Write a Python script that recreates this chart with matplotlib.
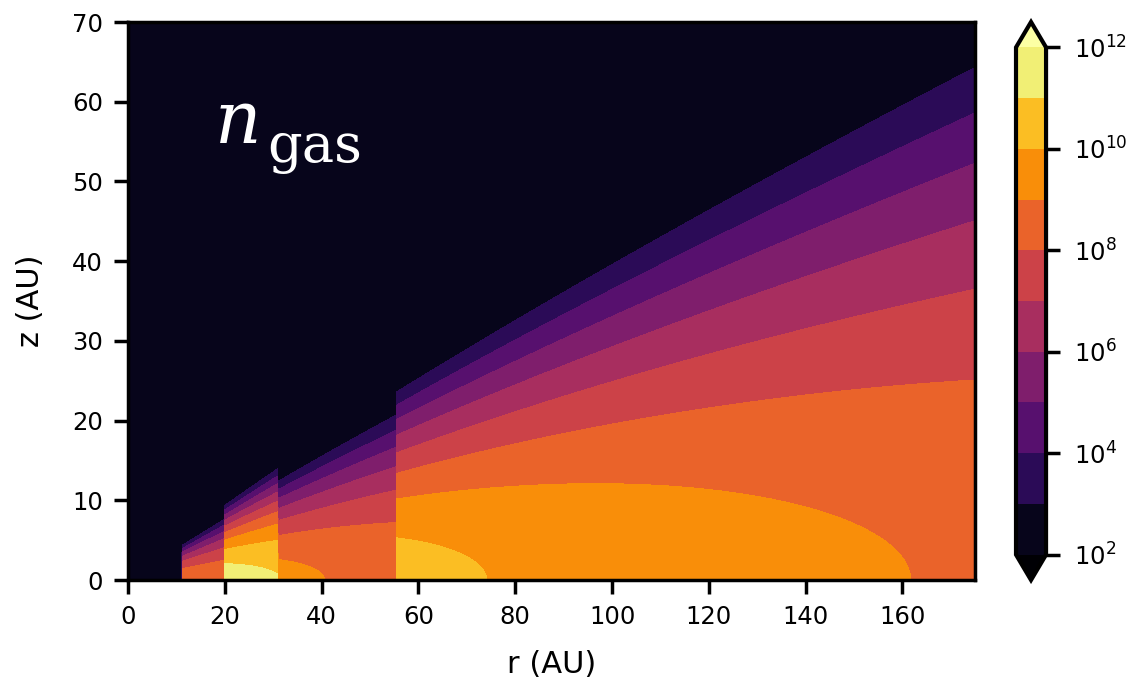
import numpy as np
import matplotlib
matplotlib.use('Agg')
import matplotlib.pyplot as plt

# gas disk rings: inner / outer radius (AU)
ring_r_in = [11.2, 20.0, 31.0, 55.5]
ring_r_out = [20.0, 31.0, 55.5, 175.0]
# log10 of the midplane density at each ring's inner edge, and its radial power-law slope
ring_logn_mid = [8.6, 11.4, 9.27, 10.37]
ring_slope = [0.0, -2.0, -2.3, -2.95]

# scale height H = h_ref * (r / r_ref)**flaring  (AU)
h_ref = 4.05
r_ref = 55.5
flaring = 0.97
logn_floor = 2.5

levels = np.arange(2, 13)
cbar_ticks = [2, 4, 6, 8, 10, 12]
xticks = np.arange(0, 161, 20)
yticks = np.arange(0, 71, 10)

# density grid in the (r, z) plane
r = np.linspace(0, 175, 1401)
z = np.linspace(0, 70, 701)
R, Z = np.meshgrid(r, z)
H = h_ref * (np.maximum(R, 0.1) / r_ref) ** flaring

logn = np.full(R.shape, logn_floor)
for i, (r_in, r_out, n0, p) in enumerate(zip(ring_r_in, ring_r_out, ring_logn_mid, ring_slope)):
    if i == len(ring_r_in) - 1:
        inside = (R >= r_in) & (R <= r_out)
    else:
        inside = (R >= r_in) & (R < r_out)
    mid = n0 + p * np.log10(np.maximum(R, 0.1) / r_in)
    vert = mid - Z ** 2 / (2 * H ** 2) / np.log(10)
    logn = np.where(inside, np.maximum(vert, logn_floor), logn)

fig = plt.figure(figsize=(11.38, 6.9), dpi=100)
ax = fig.add_axes([0.1125, 0.1594, 0.7443, 0.8087])
cs = ax.contourf(R, Z, logn, levels=levels, cmap='inferno', extend='both')

ax.set_xlim(0, 175)
ax.set_ylim(0, 70)
ax.set_xticks(xticks)
ax.set_yticks(yticks)
ax.set_xlabel('r (AU)', fontsize=22, va='center')
ax.set_ylabel('z (AU)', fontsize=22, va='center')
ax.xaxis.set_label_coords(0.5, -0.152)
ax.yaxis.set_label_coords(-0.115, 0.5)
ax.tick_params(labelsize=17.5, width=2.5, length=10, pad=8)
for s in ax.spines.values():
    s.set_linewidth(2.5)

# panel label: italic n with an upright "gas" subscript
fig.text(215 / 1138, 1 - 143 / 690, 'n', fontsize=52, style='italic',
         family='DejaVu Serif', color='white', va='baseline')
fig.text(267 / 1138, 1 - 162 / 690, 'gas', fontsize=39,
         family='DejaVu Serif', color='white', va='baseline')

cax = fig.add_axes([0.8928, 0.1594, 0.0264, 0.8087])
cb = fig.colorbar(cs, cax=cax, ticks=cbar_ticks)
cb.set_ticklabels(['$10^{%d}$' % t for t in cbar_ticks])
cb.outline.set_linewidth(3)
cax.tick_params(labelsize=17.5, width=2.5, length=10, pad=10)

fig.savefig('out.png', dpi=100)
